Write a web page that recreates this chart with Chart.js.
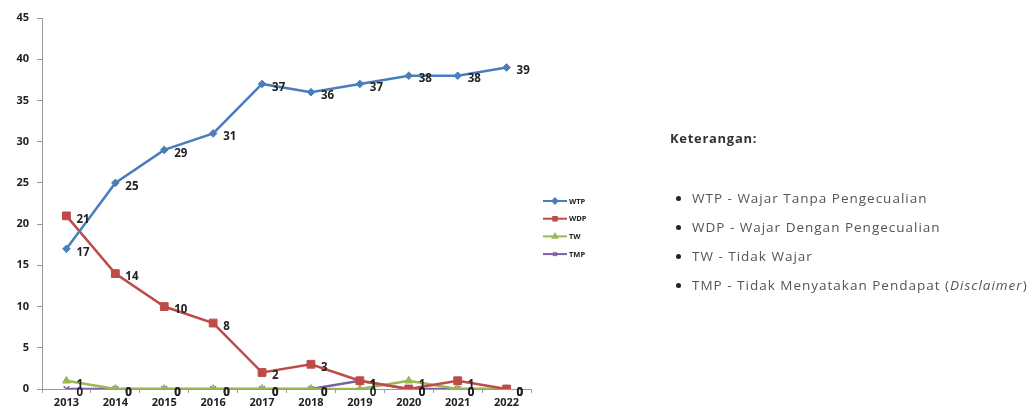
<!DOCTYPE html>
<html>
<head>
<meta charset="utf-8">
<script src="https://cdn.jsdelivr.net/npm/chart.js@4.4.1/dist/chart.umd.min.js"></script>
<style>
  html, body { margin: 0; padding: 0; background: #fff; }
  #wrap { position: relative; width: 1035px; height: 414px; overflow: hidden; }
  #c { position: absolute; left: 0; top: 0; }
  #ket { position: absolute; left: 670px; top: 129px; font-family: "Open Sans", sans-serif; color: #555; filter: blur(0.75px); white-space: nowrap; }
  #ket h4 { margin: 0; font-size: 13px; font-weight: 700; color: #333; letter-spacing: 0.7px; }
  #ket ul { margin: 42px 0 0 0; padding: 0 0 0 22px; font-size: 13.5px; letter-spacing: 1px; }
  #ket li { height: 29px; line-height: 18px; }
  #ket li::marker { color: #222; }
</style>
</head>
<body>
<div id="wrap">
  <canvas id="c" width="1035" height="414"></canvas>
  <div id="ket">
    <h4>Keterangan:</h4>
    <ul>
      <li>WTP - Wajar Tanpa Pengecualian</li>
      <li>WDP - Wajar Dengan Pengecualian</li>
      <li>TW - Tidak Wajar</li>
      <li>TMP - Tidak Menyatakan Pendapat (<i>Disclaimer</i>)</li>
    </ul>
  </div>
</div>
<script>
// Opinion counts per year
const years = ['2013', '2014', '2015', '2016', '2017', '2018', '2019', '2020', '2021', '2022'];
const wtp = [17, 25, 29, 31, 37, 36, 37, 38, 38, 39];
const wdp = [21, 14, 10, 8, 2, 3, 1, 0, 1, 0];
const tw  = [1, 0, 0, 0, 0, 0, 0, 1, 0, 0];
const tmp = [0, 0, 0, 0, 0, 0, 1, 0, 0, 0];
const seriesNames = ['WTP', 'WDP', 'TW', 'TMP'];
const yTicks = [0, 5, 10, 15, 20, 25, 30, 35, 40, 45];

const colors = ['#4A7EBB', '#BE4B48', '#98B954', '#7D60A0'];
const styles = ['rectRot', 'rect', 'triangle', 'crossRot'];
const radii = [3.8, 5.5, 4.5, 4];

function makeSet(i, data) {
  return {
    label: seriesNames[i],
    data: data,
    borderColor: colors[i],
    backgroundColor: colors[i],
    borderWidth: 2.5,
    pointStyle: styles[i],
    pointRadius: radii[i],
    pointBorderWidth: styles[i] === 'crossRot' ? 1.5 : 1,
    pointBorderColor: colors[i],
    pointBackgroundColor: colors[i],
    tension: 0
  };
}

// value labels to the right of each point
const valueLabels = {
  id: 'valueLabels',
  afterDatasetsDraw(chart) {
    const ctx = chart.ctx;
    ctx.save();
    ctx.font = 'bold 11.5px "Open Sans", sans-serif';
    ctx.fillStyle = '#222';
    ctx.textAlign = 'left';
    ctx.textBaseline = 'middle';
    chart.data.datasets.forEach((ds, di) => {
      const meta = chart.getDatasetMeta(di);
      meta.data.forEach((pt, i) => {
        ctx.fillText(String(ds.data[i]), pt.x + 10, pt.y + 3.5);
      });
    });
    ctx.restore();
  }
};

// small legend block beside the plot
const sideLegend = {
  id: 'sideLegend',
  afterDraw(chart) {
    const ctx = chart.ctx;
    ctx.save();
    chart.data.datasets.forEach((ds, i) => {
      const y = 201 + i * 17.7;
      ctx.strokeStyle = ds.borderColor;
      ctx.lineWidth = 2;
      ctx.beginPath();
      ctx.moveTo(543, y);
      ctx.lineTo(567, y);
      ctx.stroke();
      ctx.fillStyle = ds.borderColor;
      Chart.helpers.drawPoint(ctx, { pointStyle: ds.pointStyle, radius: 2.5, borderWidth: 1 }, 555, y);
      ctx.fillStyle = '#222';
      ctx.font = 'bold 7.5px "Open Sans", sans-serif';
      ctx.textAlign = 'left';
      ctx.textBaseline = 'middle';
      ctx.fillText(ds.label, 569, y + 0.5);
    });
    ctx.restore();
  }
};

new Chart(document.getElementById('c'), {
  type: 'line',
  data: {
    labels: years,
    datasets: [makeSet(0, wtp), makeSet(1, wdp), makeSet(2, tw), makeSet(3, tmp)]
  },
  plugins: [valueLabels, sideLegend],
  options: {
    responsive: false,
    animation: false,
    layout: { padding: { left: 0, right: 504, top: 18, bottom: 0 } },
    plugins: { legend: { display: false }, tooltip: { enabled: false } },
    scales: {
      x: {
        offset: true,
        grid: { offset: true, drawOnChartArea: false, drawTicks: true, tickLength: 4, color: '#999' },
        border: { color: '#999', width: 1 },
        ticks: { color: '#222', font: { family: '"Open Sans", sans-serif', size: 11, weight: 'bold' }, padding: 3, maxRotation: 0 },
        afterFit(scale) { scale.height = 25; }
      },
      y: {
        min: 0, max: 45,
        afterBuildTicks(scale) { scale.ticks = yTicks.map(v => ({ value: v })); },
        grid: { drawOnChartArea: false, drawTicks: true, tickLength: 5, color: '#999' },
        border: { color: '#999', width: 1 },
        ticks: { color: '#222', font: { family: '"Open Sans", sans-serif', size: 11, weight: 'bold' }, padding: 8 },
        afterFit(scale) { scale.width = 42; }
      }
    }
  }
});
</script>
</body>
</html>
